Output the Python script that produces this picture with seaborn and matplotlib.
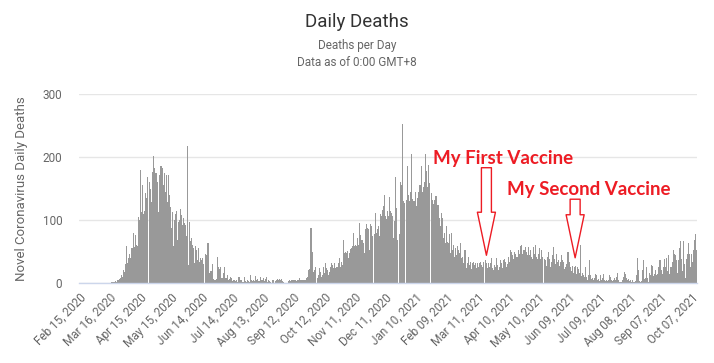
import numpy as np
import pandas as pd
import matplotlib
matplotlib.use("Agg")
import matplotlib.pyplot as plt
import seaborn as sns

# daily deaths, first day is Feb 15, 2020
start_date = "2020-02-15"
first_vaccine = "2021-03-20"
second_vaccine = "2021-06-15"

deaths_feb_mar_2020 = [0, 0, 0, 0, 0, 0, 0, 0, 0, 0,
                       0, 0, 0, 0, 0, 0, 0, 0, 0, 0,
                       0, 0, 0, 0, 0, 0, 0, 0, 0, 0, 0]

deaths_spring_2020 = [1, 1, 2, 1, 3, 2, 4, 5, 6, 8, 12, 10,
                      21, 17, 30, 58, 32, 40, 46, 40, 55, 56,
                      79, 57, 76, 60, 58, 104, 100, 180, 113, 156,
                      110, 115, 143, 135, 168, 0, 160, 150, 128, 176,
                      202, 183, 174, 160, 113, 171, 185, 186, 182, 155,
                      175, 145, 171, 129, 171, 140, 121, 87, 113, 58,
                      100, 110, 115, 68, 97, 100, 117, 108, 92, 103,
                      95, 92, 75, 218, 29, 97, 66, 71, 60, 55,
                      32, 58, 53, 37, 55, 34, 40, 37, 39, 30]

deaths_summer_2020 = [0, 46, 45, 64, 16, 19, 19, 30, 7, 5,
                      5, 6, 42, 25, 22, 26, 8, 8, 16, 25,
                      8, 8, 13, 5, 7, 9, 8, 3, 4, 5,
                      3, 4, 2, 9, 9, 5, 4, 2, 1, 9,
                      3, 2, 4, 3, 2, 13, 5, 3, 4, 3,
                      11, 5, 7, 3, 9, 5, 4, 8, 3, 7,
                      9, 2, 5, 3, 1, 0, 5, 5, 0, 3,
                      4, 7, 4, 6, 5, 6, 3, 2, 0, 0,
                      0, 0, 3, 4, 3, 5, 4, 4, 5, 4, 3, 5]

deaths_autumn_2020 = [4, 8, 5, 4, 4, 4, 4, 4, 8, 10,
                      20, 22, 87, 50, 18, 21, 25, 0, 8, 13,
                      24, 18, 10, 13, 25, 16, 32, 24, 21, 13,
                      18, 26, 32, 29, 24, 32, 24, 25, 26, 32,
                      40, 26, 34, 29, 68, 48, 50, 48, 51, 40,
                      48, 54, 56, 58, 79, 58, 61, 58, 71, 61,
                      96, 76, 69, 63, 48, 85, 93, 87, 85, 53,
                      93, 90, 74, 0, 78, 111, 79, 86, 90, 74,
                      110, 106, 116, 123, 139, 106, 101, 114, 106, 136,
                      114, 111, 106, 71, 99, 168, 119, 69, 0]

deaths_winter_2021 = [77, 160, 155, 253,
                      130, 127, 0, 132, 186, 139, 130, 144, 205, 133,
                      130, 145, 122, 135, 145, 156, 156, 186, 145, 153,
                      160, 205, 177, 153, 188, 159, 0, 143, 132, 126,
                      132, 138, 138, 124, 124, 103, 90, 111, 103, 71,
                      79, 63, 90, 65, 63, 77, 48, 79, 53,
                      61, 42, 56, 45, 58, 53, 48, 63, 40,
                      42, 32, 53, 24, 32, 42, 29, 34, 22, 32,
                      33, 29, 32, 24, 32, 26, 32, 34, 29,
                      26, 33, 0, 37, 32, 24, 32, 26, 32, 40,
                      24, 21, 29, 26, 40, 29, 21, 26, 37, 32, 24]

deaths_spring_2021 = [36, 38, 33, 25, 30, 41, 33, 52, 49, 44,
                      38, 49, 46, 41, 52, 46, 58, 60, 46, 52,
                      52, 57, 49, 44, 57, 44, 52, 41, 38, 57,
                      46, 60, 41, 38, 46, 55, 38, 52, 41, 0,
                      38, 36, 27, 41, 49, 38, 25, 33, 44, 57,
                      38, 30, 46, 33, 36, 27, 33, 44, 36,
                      33, 22, 25, 30, 49, 33, 25, 19, 27,
                      16, 25, 27, 14, 25, 22, 16, 60, 11, 16,
                      12, 9, 25, 9, 5, 12, 36, 12, 7, 8,
                      4, 8, 14, 12, 5, 7, 3, 12, 5, 8]

deaths_summer_2021 = [15, 4, 3, 4, 3, 5, 13, 9, 5,
                      3, 4, 8, 5, 9, 16, 4, 1, 1, 5,
                      9, 17, 15, 8, 5, 7, 3, 4, 2, 4,
                      1, 1, 3, 13, 40, 20, 3, 1, 3, 21,
                      36, 7, 8, 25, 8, 1, 16, 13, 28, 27,
                      11, 14, 20, 13, 15, 25, 37, 36, 20, 15,
                      25, 38, 25, 40, 19, 44, 14, 25, 33, 53,
                      46, 44, 37, 16, 36, 55, 66, 38, 19, 67,
                      30, 8, 38, 46, 63, 46, 25, 46, 33, 52,
                      68, 78, 53]

deaths = np.array(deaths_feb_mar_2020 + deaths_spring_2020 + deaths_summer_2020
                  + deaths_autumn_2020 + deaths_winter_2021 + deaths_spring_2021
                  + deaths_summer_2021)
dates = pd.date_range(start_date, periods=len(deaths), freq="D")
df = pd.DataFrame({"day": np.arange(len(deaths)), "deaths": deaths})

sns.set_theme(style="white")
plt.rcParams["font.family"] = ["Roboto", "DejaVu Sans"]

fig = plt.figure(figsize=(7.14, 3.63), dpi=100)
ax = fig.add_axes([79 / 714, 80 / 363, 618 / 714, 189 / 363])

sns.barplot(data=df, x="day", y="deaths", native_scale=True, width=1,
            color="#999999", saturation=1, linewidth=0, antialiased=False,
            errorbar=None, ax=ax)

ax.set_xlim(-0.5, len(deaths) - 0.5)
ax.set_ylim(0, 300)
ax.set_yticks([0, 100, 200, 300])
ax.yaxis.grid(True, color="#e6e6e6", linewidth=1)
ax.set_axisbelow(True)
for s in ["top", "right", "left"]:
    ax.spines[s].set_visible(False)
ax.spines["bottom"].set_color("#ccd6eb")
ax.spines["bottom"].set_linewidth(1)

tick_days = df["day"].values[::30]
ax.set_xticks(tick_days)
ax.set_xticklabels(dates[::30].strftime("%b %d, %Y"), rotation=45, ha="right",
                   rotation_mode="anchor", color="#666666", fontsize=8.5)
ax.tick_params(axis="x", length=0, pad=6)
ax.tick_params(axis="y", length=0, pad=12, labelcolor="#666666", labelsize=8.5)

ax.set_xlabel("")
ax.set_ylabel("Novel Coronavirus Daily Deaths", color="#666666", fontsize=9.5)
ax.yaxis.set_label_coords(-0.083, 0.5)

fig.text(0.5, 1 - 22 / 363, "Daily Deaths", ha="center", va="center",
         fontsize=13.5, color="#333333")
fig.text(0.5, 1 - 46 / 363, "Deaths per Day", ha="center", va="center",
         fontsize=8.5, color="#666666")
fig.text(0.5, 1 - 62 / 363, "Data as of 0:00 GMT+8", ha="center", va="center",
         fontsize=8.5, color="#666666")

# vaccine annotations
first_idx = (pd.Timestamp(first_vaccine) - pd.Timestamp(start_date)).days
second_idx = (pd.Timestamp(second_vaccine) - pd.Timestamp(start_date)).days
arrow = dict(arrowstyle="simple,head_length=3.1,head_width=1.3,tail_width=0.72",
             fc="white", ec="#ed1c24", lw=1, shrinkA=0, shrinkB=0, mutation_scale=10)
ax.annotate("", xy=(first_idx, 44), xytext=(first_idx, 183), arrowprops=arrow)
ax.annotate("", xy=(second_idx, 40), xytext=(second_idx, 133), arrowprops=arrow)
ax.text(first_idx + 16, 198, "My First Vaccine", ha="center", va="center",
        color="#ed1c24", fontsize=13.5, fontweight="bold", family="Lato")
ax.text(second_idx + 13, 148, "My Second Vaccine", ha="center", va="center",
        color="#ed1c24", fontsize=13.5, fontweight="bold", family="Lato")

fig.savefig("out.png", dpi=100)
